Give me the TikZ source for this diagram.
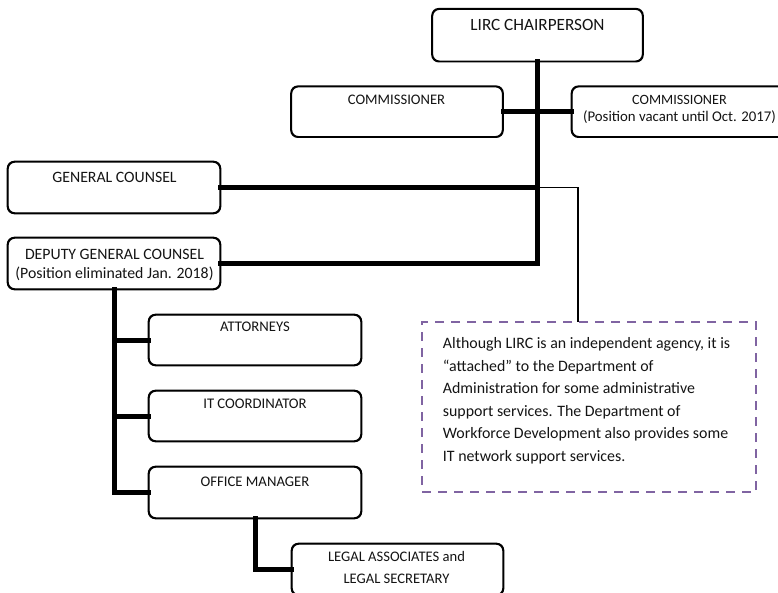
\documentclass[tikz,border=0pt]{standalone}
\usepackage{fontspec}
\setmainfont{Carlito}
\definecolor{notepurple}{RGB}{128,100,162}
\definecolor{txt}{RGB}{20,20,20}
\begin{document}
\begin{tikzpicture}[x=1pt,y=-1pt,
  orgbox/.style={draw=black,line width=1.3pt,rounded corners=7pt,inner sep=0pt,fill=white},
  lbl/.style={anchor=base,inner sep=0pt,align=center,text=txt},
  thickline/.style={line width=5pt,line join=miter,line cap=rect},
  thinline/.style={line width=1.3pt},
  notebox/.style={draw=notepurple,line width=2.6pt,dash pattern=on 9pt off 7pt,inner sep=0pt}]
\useasboundingbox (0,0) rectangle (778,593);
% boxes
\node[orgbox,minimum width=210pt,minimum height=52pt] (chair) at (537.5,35.2) {};
\node[orgbox,minimum width=211pt,minimum height=50pt] (coml) at (397,111.7) {};
\node[orgbox,minimum width=215pt,minimum height=50pt] (comr) at (679.5,111.7) {};
\node[orgbox,minimum width=212pt,minimum height=51pt] (gc) at (114,187.5) {};
\node[orgbox,minimum width=212pt,minimum height=51pt] (dep) at (114,263.5) {};
\node[orgbox,minimum width=212pt,minimum height=50pt] (att) at (255,340) {};
\node[orgbox,minimum width=212pt,minimum height=50pt] (itc) at (255,416) {};
\node[orgbox,minimum width=212pt,minimum height=51pt] (om) at (255,492.5) {};
\node[orgbox,minimum width=211pt,minimum height=51pt] (legal) at (397.5,569.5) {};
\node[notebox,minimum width=334pt,minimum height=170pt] (note) at (589,407) {};
\coordinate (nt) at (578,322);
% connectors
\draw[thickline] (chair.south) -- (chair.south |- dep.east);
\draw[thickline] (coml.east) -- (comr.west);
\draw[thickline] (gc.east) -- (gc.east -| chair.south);
\draw[thickline] (dep.east) -- (dep.east -| chair.south);
\draw[thinline] (gc.east -| chair.south) -| (nt);
\draw[thickline] (dep.south) |- (om.west);
\draw[thickline] (dep.south |- att.west) -- (att.west);
\draw[thickline] (dep.south |- itc.west) -- (itc.west);
\draw[thickline] (om.south) |- (legal.west);
% redraw box outlines on top of line ends
\foreach \n in {chair,coml,comr,gc,dep,att,itc,om,legal}{
  \draw[line width=1.3pt,rounded corners=7pt] (\n.north west) rectangle (\n.south east);
}
% labels (base = baseline of the last line)
\node[lbl,font=\fontsize{17.2}{20}\selectfont] (tchair) at (537.5,30.5) {LIRC CHAIRPERSON};
\node[lbl,font=\fontsize{14.6}{16.7}\selectfont] (tcoml) at (396.5,104.6) {COMMISSIONER};
\node[lbl,font=\fontsize{14.8}{16.7}\selectfont] (tcomr) at (679.5,121.1) {{\fontsize{14.2}{16.7}\selectfont COMMISSIONER}\\(Position vacant until Oct. 2017)};
\node[lbl,font=\fontsize{15.8}{19}\selectfont] (tgc) at (114.5,182.4) {GENERAL COUNSEL};
\node[lbl,font=\fontsize{15.8}{19}\selectfont] (tdep) at (114.5,279) {DEPUTY GENERAL COUNSEL\\(Position eliminated Jan. 2018)};
\node[lbl,font=\fontsize{14.7}{18}\selectfont] (tatt) at (255,331.7) {ATTORNEYS};
\node[lbl,font=\fontsize{14.7}{18}\selectfont] (titc) at (255,408.7) {IT COORDINATOR};
\node[lbl,font=\fontsize{14.7}{18}\selectfont] (tom) at (255,486.4) {OFFICE MANAGER};
\node[lbl,font=\fontsize{14.6}{21.6}\selectfont] (tlegal) at (396.5,583) {LEGAL ASSOCIATES and\\LEGAL SECRETARY};
\node[anchor=base west,inner sep=0pt,align=left,text=txt,font=\fontsize{15.9}{22.6}\selectfont] (tnote) at (442.7,461.4)
 {Although LIRC is an independent agency, it is\\
  “attached” to the Department of\\
  Administration for some administrative\\
  support services. The Department of\\
  Workforce Development also provides some\\
  IT network support services.};
\end{tikzpicture}
\end{document}
